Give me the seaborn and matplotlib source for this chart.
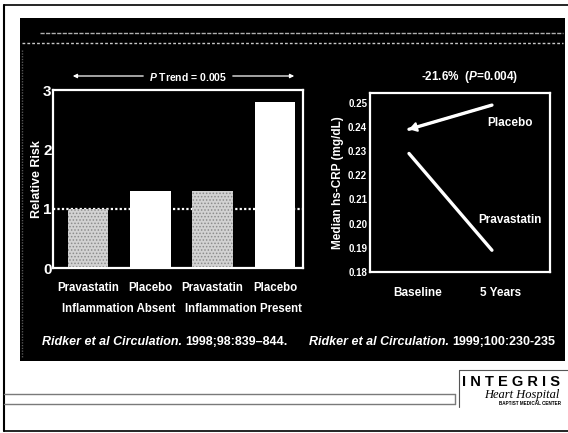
import matplotlib
matplotlib.use("Agg")
import matplotlib.pyplot as plt
import matplotlib.transforms as mtransforms
import seaborn as sns
import pandas as pd
import numpy as np
from matplotlib.patches import Rectangle, FancyArrowPatch
from matplotlib.lines import Line2D

# Relative risk by treatment arm and inflammation status
risk_arms = ["Pravastatin", "Placebo", "Pravastatin", "Placebo"]
risk_groups = ["Inflammation Absent", "Inflammation Absent",
               "Inflammation Present", "Inflammation Present"]
relative_risk = [1.0, 1.3, 1.3, 2.8]
risk_ticks = [0, 1, 2, 3]

# Median hs-CRP at baseline and after 5 years
crp_times = ["Baseline", "5 Years"]
crp_placebo = [0.239, 0.249]
crp_pravastatin = [0.229, 0.189]
crp_ticks = [0.18, 0.19, 0.20, 0.21, 0.22, 0.23, 0.24, 0.25]
crp_tick_labels = ["0.18", "0.19", "0.20", "0.21", "0.22", "0.23", "0.24", "0.25"]

sns.set_theme(style="white")
plt.rcParams["font.family"] = ["Liberation Sans", "DejaVu Sans"]
plt.rcParams["font.weight"] = "bold"
plt.rcParams["mathtext.fontset"] = "custom"
plt.rcParams["mathtext.rm"] = "Liberation Sans:bold"
plt.rcParams["mathtext.it"] = "Liberation Sans:italic:bold"
plt.rcParams["mathtext.bf"] = "Liberation Sans:bold"
plt.rcParams["hatch.linewidth"] = 0.7

W, H = 568, 433
fig = plt.figure(figsize=(W / 100, H / 100), dpi=100)
fig.patch.set_facecolor("white")


def fx(x):
    return x / W


def fy(y):
    return 1 - y / H


def fig_line(x0, y0, x1, y1, **kw):
    fig.add_artist(Line2D([fx(x0), fx(x1)], [fy(y0), fy(y1)],
                          transform=fig.transFigure, **kw))


# slide frame and dark panel
fig_line(4, 5, 568, 5, color="black", lw=1.2)
fig_line(4, 5, 4, 431, color="black", lw=1.5)
fig_line(4, 431, 568, 431, color="black", lw=1.2)
fig.add_artist(Rectangle((fx(20), fy(361)), (565 - 20) / W, (361 - 18) / H,
                         transform=fig.transFigure, facecolor="black",
                         edgecolor="none", zorder=-10))
fig_line(40, 33, 563, 33, color="#b0b0b0", lw=1.0, ls=(0, (3, 1)), zorder=-5)
fig_line(22, 43, 563, 43, color="#c8c8c8", lw=1.0, ls=(0, (2, 1.5)), zorder=-5)
fig_line(22, 50, 22, 358, color="#555555", lw=1.0, ls=(0, (1, 1)), zorder=-5)

white = "white"

# ---- left panel: relative risk bars ----
ax1 = fig.add_axes([fx(53), fy(268), 250 / W, 178 / H])
ax1.set_facecolor("none")
risk_df = pd.DataFrame({"slot": np.arange(len(relative_risk)),
                        "arm": risk_arms, "risk": relative_risk})
sns.barplot(data=risk_df, x="slot", y="risk", hue="arm",
            palette={"Pravastatin": "#d2d2d2", "Placebo": "white"},
            dodge=False, width=0.65, legend=False, ax=ax1, zorder=2,
            linewidth=0)
for bar in ax1.patches:
    if bar.get_facecolor()[0] < 0.95:
        bar.set_hatch(".....")
        bar.set_edgecolor("#8c8c8c")
        bar.set_linewidth(0)
ax1.axhline(1, color=white, lw=1.6, ls=(0, (1, 1)), zorder=1)
ax1.set_ylim(0, 3)
ax1.set_xlim(-0.56, 3.45)
ax1.set_yticks(risk_ticks)
ax1.set_yticklabels([str(t) for t in risk_ticks], fontsize=11,
                    color=white, fontweight="bold")
ax1.set_xticks(range(len(risk_arms)))
ax1.set_xticklabels(risk_arms, fontsize=8.3, color=white, fontweight="bold")
ax1.tick_params(axis="y", length=3, direction="in", color=white, pad=1, width=1)
ax1.tick_params(axis="x", length=0, pad=10)
for s in ax1.spines.values():
    s.set_color(white)
    s.set_linewidth(1.6)
ax1.set_xlabel("")
ax1.set_ylabel("Relative Risk", color=white, fontsize=9,
               fontweight="bold", labelpad=0)
for grp in ["Inflammation Absent", "Inflammation Present"]:
    pos = [i for i, g in enumerate(risk_groups) if g == grp]
    ax1.text(np.mean(pos), -0.23, grp, transform=ax1.get_xaxis_transform(),
             ha="center", va="center", color=white, fontsize=8.3,
             fontweight="bold")

# trend annotation above the bars
fig.text(fx(188), fy(77), r"$\mathit{P}$ Trend = 0.005", ha="center",
         va="center", color=white, fontsize=7.5, fontweight="bold")
fig.add_artist(FancyArrowPatch((fx(146), fy(76)), (fx(70), fy(76)),
                               transform=fig.transFigure, arrowstyle="-|>",
                               mutation_scale=6, color=white, lw=0.9))
fig.add_artist(FancyArrowPatch((fx(230), fy(76)), (fx(297), fy(76)),
                               transform=fig.transFigure, arrowstyle="-|>",
                               mutation_scale=6, color=white, lw=0.9))

# ---- right panel: hs-CRP lines ----
ax2 = fig.add_axes([fx(370), fy(272), 180 / W, 179 / H])
ax2.set_facecolor("none")
crp_df = pd.DataFrame({
    "time": crp_times * 2,
    "crp": crp_placebo + crp_pravastatin,
    "arm": ["Placebo"] * 2 + ["Pravastatin"] * 2,
})
sns.lineplot(data=crp_df, x="time", y="crp", hue="arm",
             palette={"Placebo": white, "Pravastatin": white},
             lw=2.4, legend=False, sort=False, ax=ax2)
ax2.annotate("", xy=(0, crp_placebo[0]), xytext=(1, crp_placebo[1]),
             arrowprops=dict(arrowstyle="-|>,head_length=0.55,head_width=0.35",
                             mutation_scale=8, color=white, lw=1.5,
                             shrinkA=0, shrinkB=0))
ax2.set_ylim(0.18, 0.254)
ax2.set_xlim(-0.47, 1.70)
ax2.set_yticks(crp_ticks)
ax2.set_yticklabels(crp_tick_labels, fontsize=7, color=white, fontweight="bold")
ax2.set_xticks(range(len(crp_times)))
ax2.set_xticklabels(crp_times, fontsize=8.5, color=white, fontweight="bold")
ax2.tick_params(axis="y", length=2, direction="in", color=white, pad=2)
ax2.tick_params(axis="x", length=0, pad=11)
# time labels sit a little to the right of the line ends
shift = mtransforms.ScaledTranslation(9 / 100, 0, fig.dpi_scale_trans)
for lab in ax2.get_xticklabels():
    lab.set_transform(lab.get_transform() + shift)
for s in ax2.spines.values():
    s.set_color(white)
    s.set_linewidth(1.6)
ax2.set_xlabel("")
ax2.set_ylabel("Median hs-CRP (mg/dL)", color=white, fontsize=8.5,
               fontweight="bold", labelpad=3)
ax2.text(1.22, 0.2417, "Placebo", ha="center", va="center", color=white,
         fontsize=8.5, fontweight="bold")
ax2.text(1.22, 0.2013, "Pravastatin", ha="center", va="center", color=white,
         fontsize=8.5, fontweight="bold")
fig.text(fx(470), fy(77), r"-21.6%  ($\mathit{P}$=0.004)", ha="center",
         va="center", color=white, fontsize=8.5, fontweight="bold")

# ---- citations: italic journal part followed by the volume/pages ----
panel_clip = Rectangle((fx(20), fy(361)), (565 - 20) / W, (361 - 18) / H,
                       transform=fig.transFigure, facecolor="none",
                       edgecolor="none")
renderer = fig.canvas.get_renderer()
for x0, source in [(42, "1998;98:839–844."), (309, "1999;100:230-235")]:
    t1 = fig.text(fx(x0), fy(342), "Ridker et al Circulation.", ha="left",
                  va="center", color=white, fontsize=9, fontweight="bold",
                  style="italic")
    bb = t1.get_window_extent(renderer)
    t2 = fig.text((bb.x1 + 3.5) / W, fy(342), source, ha="left", va="center",
                  color=white, fontsize=9, fontweight="bold")
    t1.set_clip_path(panel_clip)
    t2.set_clip_path(panel_clip)

# ---- footer rules and hospital mark ----
fig_line(4, 394, 455, 394, color="#7a7a7a", lw=1.0)
fig_line(4, 404, 455, 404, color="#7a7a7a", lw=1.0)
fig_line(455, 394, 455, 404, color="#7a7a7a", lw=1.0)
fig_line(459, 370, 568, 370, color="#555555", lw=0.8)
fig_line(459, 370, 459, 407, color="#555555", lw=0.8)
fig.text(fx(462), fy(382), "I N T E G R I S", ha="left", va="center",
         color="black", fontsize=10.5, fontweight="bold",
         family=["Liberation Sans Narrow", "Liberation Sans"])
fig.text(fx(522), fy(395), "Heart Hospital", ha="center", va="center",
         color="black", fontsize=9, style="italic", fontweight="normal",
         family=["Liberation Serif", "DejaVu Serif"])
fig.text(fx(530), fy(403.5), "BAPTIST MEDICAL CENTER", ha="center",
         va="center", color="black", fontsize=3.3, fontweight="bold")

fig.savefig("out.png", dpi=100, facecolor="white")
